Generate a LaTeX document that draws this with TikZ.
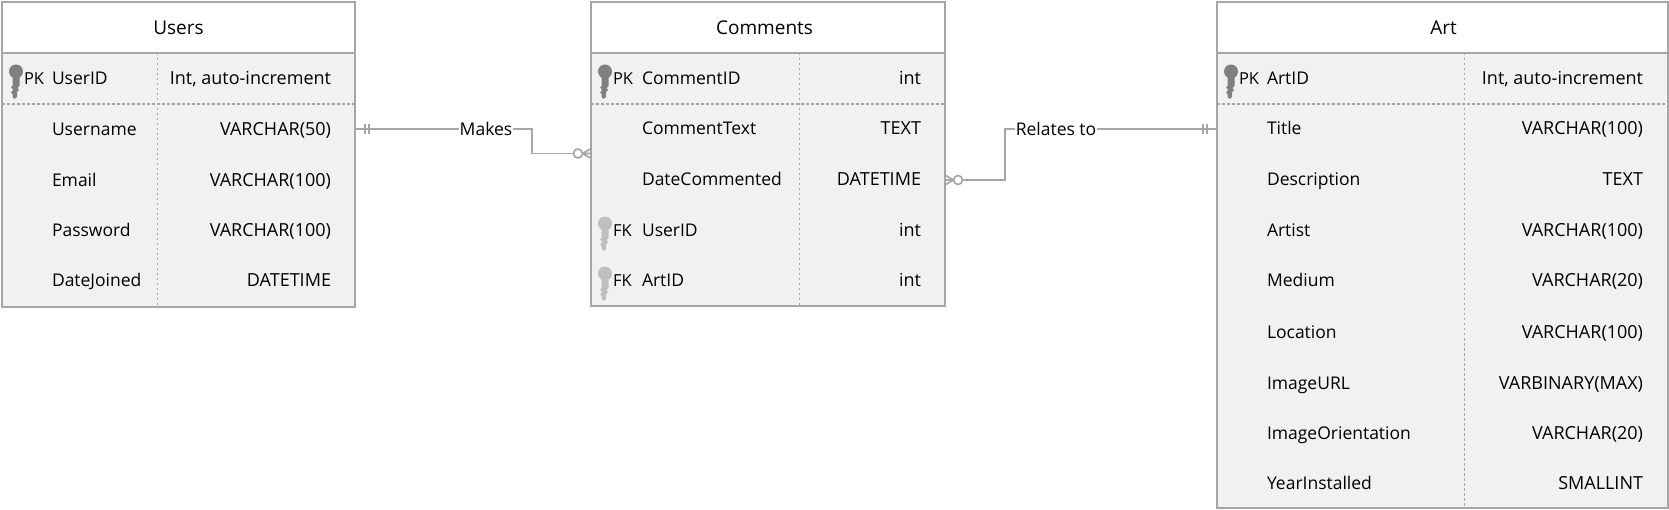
\documentclass[tikz,border=0pt]{standalone}
\usepackage{fontspec}
\setmainfont{Open Sans}
\definecolor{edge}{HTML}{A6A6A6}
\definecolor{rowfill}{HTML}{F1F1F1}
\definecolor{pkkey}{HTML}{808080}
\definecolor{fkkey}{HTML}{BFBFBF}
\tikzset{
  x=1pt,y=-1pt,
  every node/.style={font=\fontsize{17.5}{20}\selectfont,text=black,inner sep=0pt,outer sep=0pt},
  frame/.style={draw=edge,line width=1.7pt},
  sep/.style={draw=edge,line width=1.4pt,dash pattern=on 2.5pt off 2.5pt},
  link/.style={draw=edge,line width=1.7pt},
  lefttxt/.style={anchor=base west},
  tagtxt/.style={anchor=base west,font=\fontsize{16.5}{20}\selectfont},
  righttxt/.style={anchor=base east,font=\fontsize{18}{20}\selectfont},
  titletxt/.style={anchor=base,font=\fontsize{19}{22}\selectfont},
  linklabel/.style={fill=white,anchor=center,inner sep=1pt},
  keypic/.pic={
    \fill[pic actions] (0,-6.5) circle[radius=7];
    \fill[pic actions] (-3.5,-2) -- (3.5,-2) -- (3.5,8) -- (1.5,10) -- (3,12) -- (1,14) -- (1,19)
      -- (-1.5,21) -- (-3.5,19) -- (-3.5,16) -- (-5,14.5) -- (-3.5,13) -- (-3.5,11) -- (-5,9.5) -- (-3.5,8) -- cycle;
  },
}
\newcommand{\entity}[8]{% name, x1, x2, column, y2, title, header-divider, title x
  \fill[rowfill] (#2,53) rectangle (#3,#5);
  \node[draw=none,anchor=north west,minimum width=#3pt-#2pt,minimum height=#5pt-2pt] (#1) at (#2,2) {};
  \node[titletxt] (#1title) at (#8,35) {#6};
  \draw[sep] (#4,53) -- (#4,#5);
  \draw[sep] (#2,#7) -- (#3,#7);
  \draw[frame] (#2,2) rectangle (#3,#5);
  \draw[frame] (#2,53) -- (#3,53);
}
\begin{document}
\begin{tikzpicture}
\useasboundingbox (0,0) rectangle (1669,510);
% Users
\entity{users}{2}{355}{157.5}{307}{Users}{104}{178.5}
\pic[pkkey] at (16,78) {keypic};
\node[tagtxt] (u1t) at (24,85) {PK};
\foreach \n/\y/\name/\type in {a/78/UserID/{Int, auto-increment},b/129/Username/VARCHAR(50),c/180/Email/VARCHAR(100),d/230/Password/VARCHAR(100),e/280/DateJoined/DATETIME}{
  \node[lefttxt] (u\n name) at (52,\y+7) {\name};
  \node[righttxt] (u\n type) at (331,\y+7) {\type};
}
% Comments
\entity{comments}{591}{945}{799.5}{306}{Comments}{104}{764.5}
\pic[pkkey] at (605,78) {keypic};
\node[tagtxt] (c1t) at (613,85) {PK};
\pic[fkkey] at (605,230) {keypic};
\node[tagtxt] (c4t) at (613,237) {FK};
\pic[fkkey] at (605,280) {keypic};
\node[tagtxt] (c5t) at (613,287) {FK};
\foreach \n/\y/\name/\type in {a/78/CommentID/int,b/128/CommentText/TEXT,c/179/DateCommented/DATETIME,d/230/UserID/int,e/280/ArtID/int}{
  \node[lefttxt] (c\n name) at (642,\y+7) {\name};
  \node[righttxt] (c\n type) at (921,\y+7) {\type};
}
% Art
\entity{art}{1217}{1668}{1464.5}{508}{Art}{104}{1443.5}
\pic[pkkey] at (1231,78) {keypic};
\node[tagtxt] (a1t) at (1239,85) {PK};
\foreach \n/\y/\name/\type in {a/78/ArtID/{Int, auto-increment},b/128/Title/VARCHAR(100),c/179/Description/TEXT,d/230/Artist/VARCHAR(100),e/280/Medium/VARCHAR(20),f/331/Location/VARCHAR(100),g/382/ImageURL/VARBINARY(MAX),h/432/ImageOrientation/VARCHAR(20),i/482/YearInstalled/SMALLINT}{
  \node[lefttxt] (a\n name) at (1267,\y+7) {\name};
  \node[righttxt] (a\n type) at (1643,\y+7) {\type};
}
% Connector ends
\coordinate (makesA) at (355,129);
\coordinate (makesB) at (591,153.5);
\coordinate (relA) at (945,180);
\coordinate (relB) at (1217,129);
% Makes
\node[link,circle,draw,fill=white,minimum size=9pt] (makesO) at (578,153.5) {};
\draw[link] (makesA) -| (532,153.5) -- (makesO);
\node[linklabel] (makes) at (486,129) {Makes};
\draw[link] (365,124) -- (365,134) (369,124) -- (369,134);
\draw[link] (makesO.east) -- (makesB) (makesO.east) -- (591,148.5) (makesO.east) -- (591,158.5);
% Relates to
\node[link,circle,draw,fill=white,minimum size=9pt] (relO) at (958,180) {};
\draw[link] (relO) -- (1005,180) |- (relB);
\node[linklabel] (rel) at (1056,129) {Relates to};
\draw[link] (1203,124) -- (1203,134) (1207,124) -- (1207,134);
\draw[link] (relO.west) -- (relA) (relO.west) -- (945,175) (relO.west) -- (945,185);
\end{tikzpicture}
\end{document}
